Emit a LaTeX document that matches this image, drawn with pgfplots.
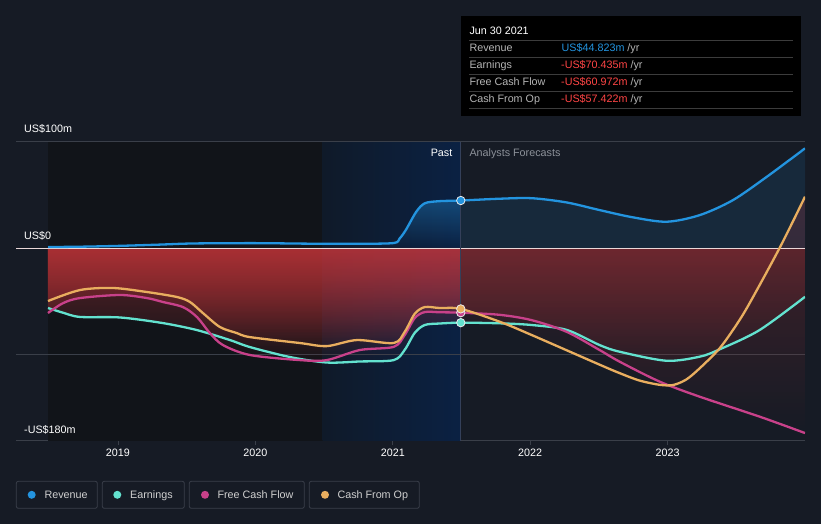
\documentclass[border=0pt]{standalone}
\usepackage{pgfplots}
\pgfplotsset{compat=1.18}
\usepackage{pgfplotstable}
\usetikzlibrary{fadings}
\usepackage{fontspec}
\setmainfont{Liberation Sans}

\definecolor{bg}{HTML}{161B25}
\definecolor{darkband}{HTML}{111419}
\definecolor{bandL}{HTML}{0F1A29}
\definecolor{bandR}{HTML}{0B2143}
\definecolor{rev}{HTML}{2394DF}
\definecolor{earn}{HTML}{63E2CF}
\definecolor{fcf}{HTML}{C8418A}
\definecolor{cfo}{HTML}{E9AE5F}
\definecolor{negfill}{HTML}{D8383C}
\definecolor{gridc}{HTML}{3A3F49}
\definecolor{tipred}{HTML}{FF4545}
\definecolor{tipgray}{HTML}{B5B5B5}
\definecolor{tipline}{HTML}{3C3C3C}
\definecolor{legbox}{HTML}{3A3F4A}
\definecolor{legtext}{HTML}{D0D0D0}
\definecolor{zeroc}{HTML}{EAD8D8}
\definecolor{vline}{HTML}{34405A}
\definecolor{fctext}{HTML}{8C9199}

\pgfplotstableread{
x y
2018.491 0.9
2018.75 1.3
2019.0 2.0
2019.3 3.2
2019.55 4.3
2020.0 4.6
2020.4 4.1
2020.75 4.0
2021.007 4.7
2021.05 9
2021.095 17
2021.17 34
2021.233 42.2
2021.34 44.2
2021.495 44.8
2021.778 46.5
2022.01 47
2022.265 43
2022.505 35.8
2022.745 29
2022.993 24.8
2023.233 31
2023.473 45
2023.72 67
2024.0 94
}\rev

\pgfplotstableread{
x y
2018.491 -56.6
2018.6 -61
2018.724 -65
2019.015 -65.5
2019.327 -70.8
2019.575 -77.4
2019.815 -86.8
2019.96 -93.4
2020.251 -102.8
2020.52 -108
2020.76 -107
2021.007 -105.7
2021.087 -96
2021.16 -80
2021.233 -72.6
2021.342 -71.2
2021.495 -70.4
2021.778 -71
2022.01 -72.6
2022.265 -77.2
2022.505 -91.5
2022.651 -97.8
2022.99 -106.3
2023.233 -102.5
2023.378 -95.6
2023.669 -77.4
2024.0 -46
}\earn

\pgfplotstableread{
x y
2018.491 -61.3
2018.6 -52
2018.724 -47.2
2019.015 -44.3
2019.211 -47.2
2019.327 -50.9
2019.473 -55.7
2019.575 -65.1
2019.669 -80.2
2019.764 -91.5
2019.96 -100.9
2020.324 -105.7
2020.52 -105.7
2020.76 -96.2
2021.007 -93.2
2021.087 -82
2021.16 -66
2021.233 -60.4
2021.342 -60.6
2021.495 -61
2021.778 -63
2022.01 -68
2022.265 -79
2022.505 -96.2
2022.651 -107.2
2022.942 -126
2023.233 -140.2
2023.669 -159
2024.0 -174.5
}\fcf

\pgfplotstableread{
x y
2018.491 -50
2018.724 -39.6
2018.964 -37.7
2019.211 -41.5
2019.429 -46.2
2019.524 -50.9
2019.618 -61.3
2019.742 -74.5
2019.865 -80.2
2019.96 -84
2020.324 -89.6
2020.52 -92.5
2020.738 -86.8
2021.007 -89.6
2021.087 -79
2021.16 -62
2021.233 -55.7
2021.342 -56.6
2021.495 -57.4
2021.778 -69.5
2022.01 -82
2022.505 -110
2022.651 -118
2022.796 -125
2022.942 -129
2023.04 -129.2
2023.136 -124
2023.233 -113.5
2023.378 -94.7
2023.5 -72.6
2023.596 -52.2
2023.815 0
2024.0 48.4
}\cfo

\begin{document}
\begin{tikzpicture}
\fill[bg] (0,0) rectangle (821bp,524bp);
\begin{axis}[
  at={(16bp,83bp)}, anchor=south west,
  scale only axis, width=789bp, height=299bp,
  xmin=2018.258, xmax=2024, ymin=-182, ymax=100,
  axis x line*=bottom, axis y line=none,
  x axis line style={gridc, line width=1bp, -},
  xtick={2019,2020,2021,2022,2023},
  xticklabels={2019,2020,2021,2022,2023},
  tick style={gridc, line width=0.8bp},
  major tick length=4bp, tick align=outside,
  xticklabel style={text=white, font=\fontsize{10.8}{13}\selectfont},
  /pgf/number format/assume math mode=true,
  ytick=\empty,
]
% background bands
\fill[darkband] (axis cs:2018.491,-182) rectangle (axis cs:2020.49,100);
\fill[left color=bandL, right color=bandR] (axis cs:2020.49,-182) rectangle (axis cs:2021.495,100);
% gridlines
\draw[gridc, line width=1bp] (axis cs:2018.258,100) -- (axis cs:2024,100);
\draw[gridc, line width=1bp] (axis cs:2018.258,-100) -- (axis cs:2024,-100);

% fills past
\addplot[draw=none, fill=rev, fill opacity=0.35, path fading=south, smooth, restrict x to domain=2018:2021.5] table[x=x,y=y] {\rev} \closedcycle;
\addplot[draw=none, fill=negfill, fill opacity=0.38, path fading=south, smooth, restrict x to domain=2018:2021.5] table[x=x,y=y] {\earn} \closedcycle;
\addplot[draw=none, fill=negfill, fill opacity=0.38, path fading=south, smooth, restrict x to domain=2018:2021.5] table[x=x,y=y] {\fcf} \closedcycle;
\addplot[draw=none, fill=negfill, fill opacity=0.38, path fading=south, smooth, restrict x to domain=2018:2021.5] table[x=x,y=y] {\cfo} \closedcycle;
% fills forecast
\addplot[draw=none, fill=rev, fill opacity=0.12, smooth, restrict x to domain=2021.49:2025] table[x=x,y=y] {\rev} \closedcycle;
\addplot[draw=none, fill=negfill, fill opacity=0.2, path fading=south, smooth, restrict x to domain=2021.49:2025] table[x=x,y=y] {\earn} \closedcycle;
\addplot[draw=none, fill=negfill, fill opacity=0.2, path fading=south, smooth, restrict x to domain=2021.49:2025] table[x=x,y=y] {\fcf} \closedcycle;
\addplot[draw=none, fill=negfill, fill opacity=0.2, path fading=south, smooth, restrict x to domain=2021.49:2025] table[x=x,y=y] {\cfo} \closedcycle;

% zero line and past boundary
\draw[zeroc, line width=1bp] (axis cs:2018.258,0) -- (axis cs:2024,0);
\draw[vline, line width=0.8bp] (axis cs:2021.495,-182) -- (axis cs:2021.495,100);

% lines
\addplot[rev, line width=2.3bp, smooth, no markers] table[x=x,y=y] {\rev};
\addplot[earn, line width=2.3bp, smooth, no markers] table[x=x,y=y] {\earn};
\addplot[fcf, line width=2.3bp, smooth, no markers] table[x=x,y=y] {\fcf};
\addplot[cfo, line width=2.3bp, smooth, no markers] table[x=x,y=y] {\cfo};

% markers
\addplot[only marks, mark=*, mark size=4.2bp, mark options={fill=rev, draw=white!85!gray, line width=0.8bp}] coordinates {(2021.495,44.8)};
\addplot[only marks, mark=*, mark size=4.2bp, mark options={fill=earn, draw=white!85!gray, line width=0.8bp}] coordinates {(2021.495,-70.4)};
\addplot[only marks, mark=*, mark size=4.2bp, mark options={fill=fcf, draw=white!85!gray, line width=0.8bp}] coordinates {(2021.495,-61)};
\addplot[only marks, mark=*, mark size=4.2bp, mark options={fill=cfo, draw=white!85!gray, line width=0.8bp}] coordinates {(2021.495,-57.4)};
\end{axis}

% y labels
\begin{scope}[font=\fontsize{10.8}{13}\selectfont]
\node[anchor=base west, inner sep=0, text=white] at (24bp,391.3bp) {US\$100m};
\node[anchor=base west, inner sep=0, text=white] at (24bp,284bp) {US\$0};
\node[anchor=base west, inner sep=0, text=white] at (24bp,90.7bp) {-US\$180m};

% past / forecast
\node[anchor=base east, inner sep=0, text=white] at (452.5bp,367bp) {Past};
\node[anchor=base west, inner sep=0, text=fctext] at (469.3bp,367bp) {Analysts Forecasts};

% tooltip
\fill[black] (461bp,408bp) rectangle (801bp,508bp);
\node[anchor=base west, inner sep=0, text=white] at (469.3bp,489bp) {Jun 30 2021};
\foreach \yy in {483.3,466.7,449.7,432.7,415.7} {\draw[tipline, line width=0.8bp] (469bp,\yy bp) -- (793bp,\yy bp);}
\node[anchor=base west, inner sep=0, text=tipgray] at (469.3bp,472bp) {Revenue};
\node[anchor=base west, inner sep=0, text=tipgray] at (469.3bp,455bp) {Earnings};
\node[anchor=base west, inner sep=0, text=tipgray] at (469.3bp,438bp) {Free Cash Flow};
\node[anchor=base west, inner sep=0, text=tipgray] at (469.3bp,421bp) {Cash From Op};
\node[anchor=base west, inner sep=0] at (561.5bp,472bp) {\textcolor{rev}{US\$44.823m} \textcolor{tipgray}{/yr}};
\node[anchor=base west, inner sep=0] at (561bp,455bp) {\textcolor{tipred}{-US\$70.435m} \textcolor{tipgray}{/yr}};
\node[anchor=base west, inner sep=0] at (561bp,438bp) {\textcolor{tipred}{-US\$60.972m} \textcolor{tipgray}{/yr}};
\node[anchor=base west, inner sep=0] at (561bp,421bp) {\textcolor{tipred}{-US\$57.422m} \textcolor{tipgray}{/yr}};

% legend
\draw[legbox, line width=0.8bp, rounded corners=2bp] (16.3bp,15.7bp) rectangle (97.3bp,42.7bp);
\fill[rev] (31.7bp,29.2bp) circle (4bp);
\node[anchor=base west, inner sep=0, text=legtext] at (44.3bp,25.7bp) {Revenue};
\draw[legbox, line width=0.8bp, rounded corners=2bp] (102.3bp,15.7bp) rectangle (184.3bp,42.7bp);
\fill[earn] (117.3bp,29.2bp) circle (4bp);
\node[anchor=base west, inner sep=0, text=legtext] at (130bp,25.7bp) {Earnings};
\draw[legbox, line width=0.8bp, rounded corners=2bp] (189.3bp,15.7bp) rectangle (304.3bp,42.7bp);
\fill[fcf] (205bp,29.2bp) circle (4bp);
\node[anchor=base west, inner sep=0, text=legtext] at (217.3bp,25.7bp) {Free Cash Flow};
\draw[legbox, line width=0.8bp, rounded corners=2bp] (309.3bp,15.7bp) rectangle (419.3bp,42.7bp);
\fill[cfo] (325bp,29.2bp) circle (4bp);
\node[anchor=base west, inner sep=0, text=legtext] at (337.3bp,25.7bp) {Cash From Op};
\end{scope}
\end{tikzpicture}
\end{document}
